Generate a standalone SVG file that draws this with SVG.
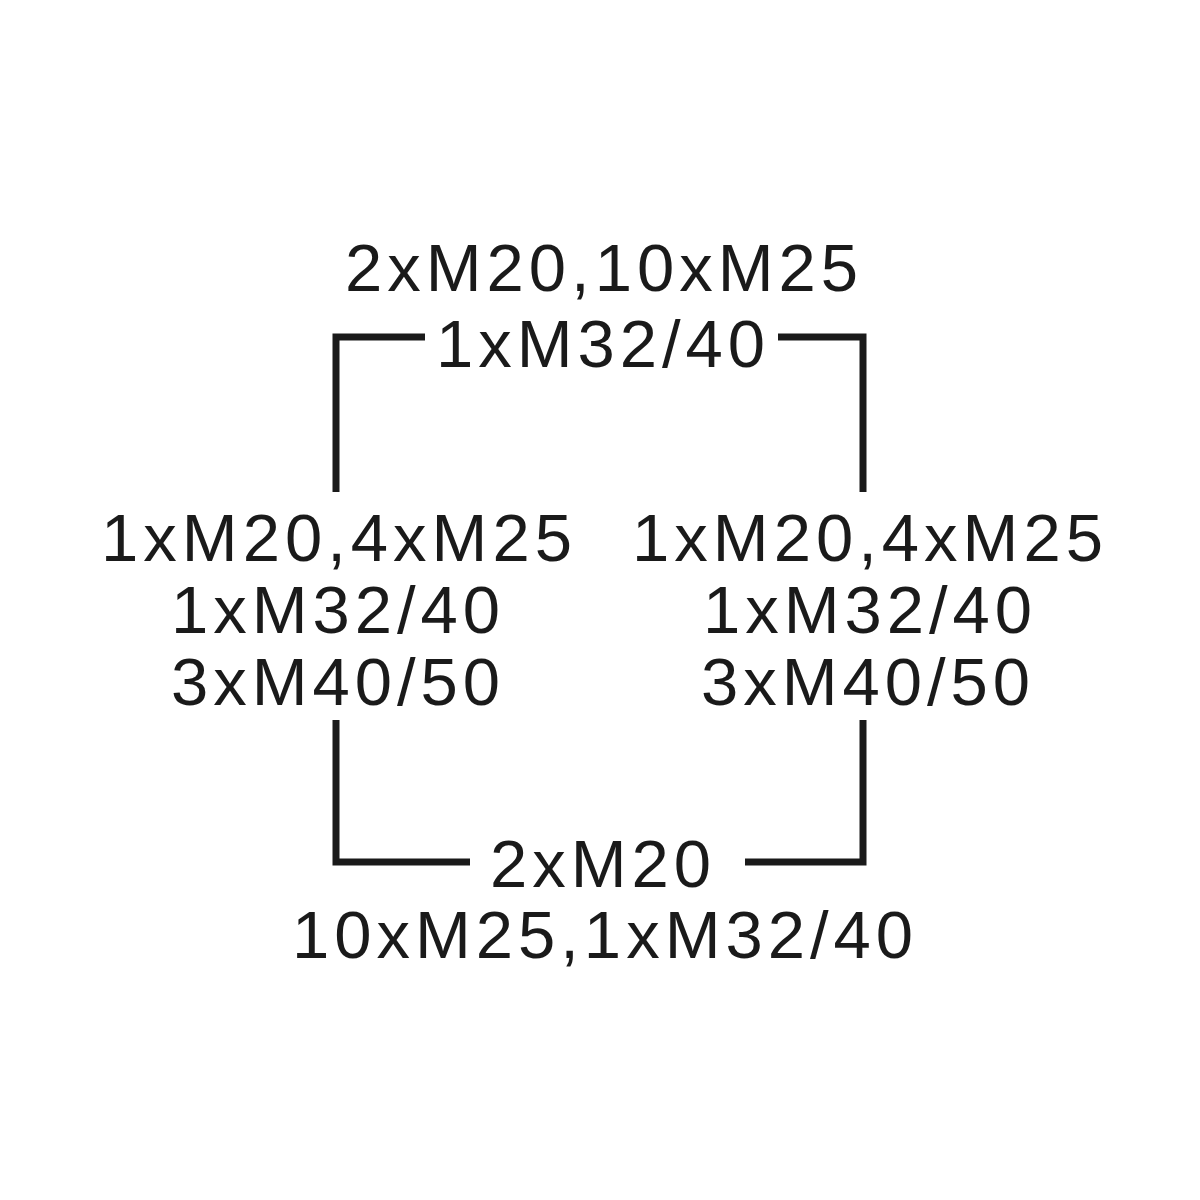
<svg xmlns="http://www.w3.org/2000/svg" width="1200" height="1200" viewBox="0 0 1200 1200">
<style>
.lbl{font-family:"Liberation Sans",Arial,sans-serif;font-size:67px;letter-spacing:5px;fill:#1a1a1a;text-anchor:middle}
.ln{fill:none;stroke:#1a1a1a;stroke-width:7;stroke-linejoin:miter;stroke-linecap:butt}
</style>
<rect width="1200" height="1200" fill="#ffffff"/>
<g id="connectors">
<path class="ln" d="M425,337 H336 V492"/>
<path class="ln" d="M778,337 H863 V492"/>
<path class="ln" d="M336,720 V862 H470"/>
<path class="ln" d="M745,862 H863 V720"/>
</g>
<g id="top">
<text class="lbl" x="604" y="291">2xM20,10xM25</text>
<text class="lbl" x="603" y="367">1xM32/40</text>
</g>
<g id="left">
<text class="lbl" x="339" y="561">1xM20,4xM25</text>
<text class="lbl" x="338" y="633">1xM32/40</text>
<text class="lbl" x="338" y="705">3xM40/50</text>
</g>
<g id="right">
<text class="lbl" x="870" y="561">1xM20,4xM25</text>
<text class="lbl" x="870" y="633">1xM32/40</text>
<text class="lbl" x="868" y="705">3xM40/50</text>
</g>
<g id="bottom">
<text class="lbl" x="603" y="887">2xM20</text>
<text class="lbl" x="605" y="958">10xM25,1xM32/40</text>
</g>
</svg>
